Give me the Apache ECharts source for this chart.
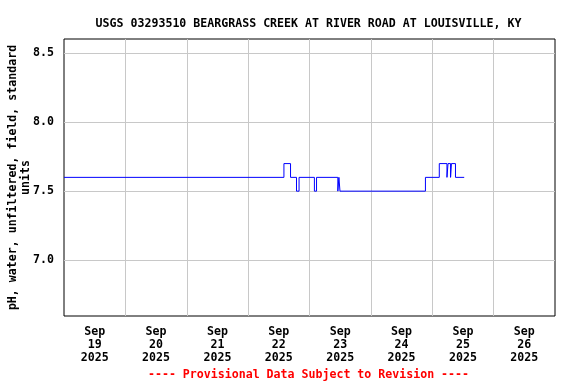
<!DOCTYPE html>
<html>
<head>
<meta charset="utf-8">
<script src="https://cdn.jsdelivr.net/npm/echarts@6/dist/echarts.min.js"></script>
<style>
  html, body { margin: 0; padding: 0; background: #fff; }
  #chart { width: 576px; height: 384px; }
</style>
</head>
<body>
<div id="chart"></div>
<script>
// change points of the pH record, each value holds until the next time
const times = [
  '2025-09-19T00:00', '2025-09-22T14:00', '2025-09-22T16:35', '2025-09-22T18:55',
  '2025-09-22T19:55', '2025-09-23T01:55', '2025-09-23T02:45', '2025-09-23T11:05',
  '2025-09-23T11:30', '2025-09-23T11:55', '2025-09-24T21:20', '2025-09-25T02:45',
  '2025-09-25T05:45', '2025-09-25T06:10', '2025-09-25T07:10', '2025-09-25T07:30',
  '2025-09-25T09:05', '2025-09-25T12:30'
]
const phValues = [
  7.6, 7.7, 7.6, 7.5,
  7.6, 7.5, 7.6, 7.5,
  7.6, 7.5, 7.6, 7.7,
  7.6, 7.7, 7.6, 7.7,
  7.6, 7.6
]
const dayLabels = ['Sep\n19\n2025', 'Sep\n20\n2025', 'Sep\n21\n2025', 'Sep\n22\n2025',
  'Sep\n23\n2025', 'Sep\n24\n2025', 'Sep\n25\n2025', 'Sep\n26\n2025']
const yTicks = [7.0, 7.5, 8.0, 8.5]

const font = 'DejaVu Sans Mono'
const fs = 11.6
const chart = echarts.init(document.getElementById('chart'))

const data = times.map((t, i) => [new Date(t).getTime(), phValues[i]])

chart.setOption({
  animation: false,
  backgroundColor: '#fff',
  title: {
    text: 'USGS 03293510 BEARGRASS CREEK AT RIVER ROAD AT LOUISVILLE, KY',
    left: 303.5,
    textAlign: 'center',
    top: 13,
    textStyle: { fontFamily: font, fontSize: fs, fontWeight: 'bold', color: '#000' }
  },
  graphic: [{
    type: 'text',
    x: 308.5,
    y: 375,
    style: {
      text: '---- Provisional Data Subject to Revision ----',
      fill: '#ff0000',
      font: 'bold ' + fs + 'px "DejaVu Sans Mono"',
      align: 'center',
      verticalAlign: 'middle'
    }
  }],
  grid: {
    left: 64, right: 21, top: 39, bottom: 68,
    containLabel: false,
    outerBoundsMode: 'none',
    show: true, borderColor: '#000', borderWidth: 1
  },
  xAxis: [{
    type: 'time',
    min: new Date('2025-09-19T00:00').getTime(),
    max: new Date('2025-09-27T00:00').getTime(),
    show: false
  }, {
    type: 'category',
    data: dayLabels,
    boundaryGap: true,
    position: 'bottom',
    axisLine: { show: false },
    axisTick: { show: false },
    axisLabel: {
      fontFamily: font, fontSize: fs, fontWeight: 'bold', color: '#000',
      lineHeight: 13, margin: 9, interval: 0
    },
    splitLine: {
      show: true, interval: 0, showMinLine: false, showMaxLine: false,
      lineStyle: { color: '#c8c8c8', width: 1 }
    }
  }],
  yAxis: {
    type: 'value',
    min: 6.594,
    max: 8.604,
    name: 'pH, water, unfiltered, field, standard\nunits',
    nameLocation: 'middle',
    nameRotate: 90,
    nameGap: 31,
    nameMoveOverlap: false,
    nameTextStyle: { fontFamily: font, fontSize: fs, fontWeight: 'bold', color: '#000', lineHeight: 13.5 },
    axisLine: { show: false },
    axisTick: { show: false, customValues: yTicks },
    axisLabel: {
      customValues: yTicks,
      formatter: v => v.toFixed(1),
      fontFamily: font, fontSize: fs, fontWeight: 'bold', color: '#000', margin: 10
    },
    splitLine: { show: true, lineStyle: { color: '#c8c8c8', width: 1 } }
  },
  series: [{
    type: 'line',
    xAxisIndex: 0,
    data: data,
    step: 'end',
    symbol: 'none',
    lineStyle: { color: '#0000ff', width: 1 }
  }]
})
</script>
</body>
</html>
